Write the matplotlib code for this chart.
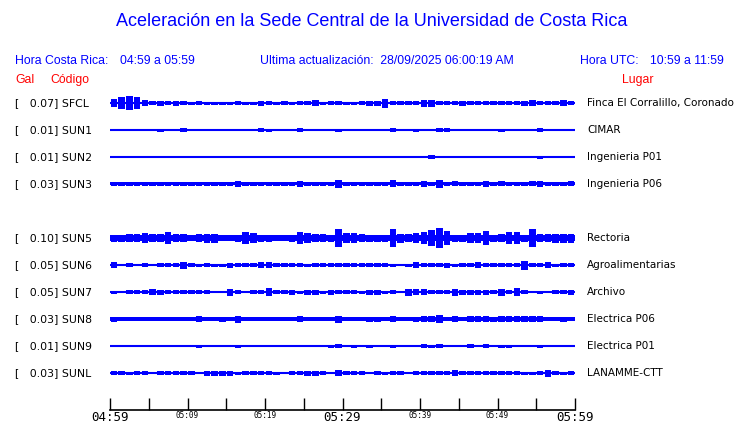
import numpy as np
import matplotlib
matplotlib.use('Agg')
import matplotlib.pyplot as plt

# station codes, peak acceleration (Gal) and place names
codes = ['SFCL', 'SUN1', 'SUN2', 'SUN3', 'SUN5', 'SUN6', 'SUN7', 'SUN8', 'SUN9', 'SUNL']
gal = ['0.07', '0.01', '0.01', '0.03', '0.10', '0.05', '0.05', '0.03', '0.01', '0.03']
places = ['Finca El Corralillo, Coronado', 'CIMAR', 'Ingenieria P01', 'Ingenieria P06',
          'Rectoria', 'Agroalimentarias', 'Archivo', 'Electrica P06', 'Electrica P01',
          'LANAMME-CTT']

# time axis (minutes after 04:59)
tick_minutes = list(range(0, 61, 5))
tick_labels = ['04:59', '', '05:09', '', '05:19', '', '05:29', '', '05:39', '', '05:49', '', '05:59']

# continuous noise level of each trace (half amplitude, drawing units)
floor = [1, 1, 1, 1.5, 2.7, 1, 1, 2, 1, 1]

# per-minute envelope (half amplitude)
sfcl = [4, 6, 7, 6, 3, 2, 2.5, 2, 2.5, 2, 1.5, 2, 1.5, 1.5, 1.5, 1.5, 2, 1.5, 1.5, 2.5,
        2, 1.5, 2, 1.5, 2, 2, 3, 1.5, 2, 2, 1.5, 1.5, 2, 2.5, 2.5, 4.5, 2, 2, 2, 2,
        3.5, 3.5, 2, 2, 2, 2.5, 2, 2, 2, 2, 2, 2, 2, 2.5, 3, 2, 2, 2, 3, 2]
sun1 = [1, 1, 1, 1, 1, 1, 1.5, 1, 1, 2, 1, 1, 1, 1, 1, 1, 1, 1, 1, 2,
        1.5, 1, 1, 1, 2, 1, 1, 1, 1, 1.5, 1, 1, 1, 1, 1, 1, 2, 1, 1, 1.5,
        1, 1, 2, 2, 1, 1, 1, 1, 1, 1, 1.5, 1, 1, 1, 1, 2, 1, 1, 1, 1]
sun2 = [1, 1, 1, 1, 1, 1, 1, 1, 1, 1, 1, 1, 1, 1, 1, 1, 1, 1, 1, 1,
        1, 1, 1, 1, 1, 1, 1, 1, 1, 1, 1, 1, 1, 1, 1, 1, 1, 1, 1, 1,
        1, 1.8, 1, 1, 1, 1, 1, 1, 1, 1, 1, 1, 1, 1, 1, 1.5, 1, 1, 1, 1]
sun3 = [2, 1.8, 2, 1.8, 2, 2, 1.8, 2, 1.8, 2, 2, 2, 2, 2, 2, 2, 3, 2, 2, 2,
        2, 2, 1.8, 2, 3, 2, 2, 2, 2, 4, 2, 2, 2, 2, 2, 2, 3.5, 2, 2, 2,
        3, 2, 4, 2, 2.5, 2, 2, 2, 3, 2, 2.5, 2, 2, 2, 2.5, 3, 2, 2, 2, 2.5]
sun5 = [3.5, 3.5, 4, 4, 5, 4, 4, 6, 4, 4, 3, 4, 4.5, 4.5, 3, 3, 3.5, 6, 5, 3.5,
        3.5, 3, 3, 3.5, 6, 5, 4, 4, 3.5, 9, 5, 5, 4, 3.5, 3.5, 3.5, 9, 4.5, 4, 5,
        6, 8, 10, 7, 3.5, 3.5, 5, 5, 7, 3.5, 4, 6, 6, 3.5, 9, 4, 4, 4.5, 4.5, 4.5]
sun6 = [3, 1, 2, 1, 2, 1, 2, 2, 2, 3.5, 2, 1.5, 2, 1.5, 1.5, 2.5, 2, 2, 2, 3,
        3, 2, 2, 2, 2, 1.5, 2, 2, 2, 2, 2, 2, 2, 2, 2, 2, 1.5, 1, 1.5, 3,
        2, 2, 2, 2.5, 1.5, 2, 2, 3, 2, 2, 2, 2, 2, 4.5, 2, 2, 3, 1.5, 2, 2]
sun7 = [1.5, 1, 2, 2, 2, 3, 2.5, 2, 2, 2, 2, 2, 2, 1, 1, 3.5, 2, 1, 2, 2,
        4, 2, 2, 2.5, 1.5, 2.5, 2.5, 1.5, 2.5, 2, 2, 2, 1.5, 2.5, 2.5, 1.5, 2, 1, 3.5, 3,
        3, 2, 2, 2, 3.5, 2.5, 2.5, 2.5, 2.5, 2, 3.5, 2, 4, 2, 1, 1.5, 1, 2, 2, 2.5]
sun8 = [2.5, 2, 2, 2, 2, 2, 2, 2, 2, 2, 2, 3, 2, 2, 2.5, 2, 3.5, 2, 2, 2,
        2, 2, 2, 2, 3, 2, 2, 2, 2, 3.5, 2, 2, 2, 2.5, 2.5, 2, 3, 2, 2, 2.5,
        3, 3, 4, 2, 3, 2, 3, 3, 3, 2.5, 3, 3, 3, 3, 3, 3, 2, 2, 2.5, 2]
sun9 = [1, 1, 1, 1, 1, 1, 1, 1, 1, 1, 1, 1.5, 1, 1, 1, 1, 1.5, 1, 1, 1,
        1, 1, 1, 1, 1, 1, 1, 1, 1.5, 2, 1, 1.5, 1, 1.5, 1, 1, 1.5, 1, 1, 1,
        2, 1.5, 2, 1, 1, 1, 2, 1, 2, 1, 1.5, 1.5, 1, 1, 1.3, 1.5, 1, 1, 1, 1]
sunl = [2, 2, 1.5, 2, 2, 1, 2, 2, 2, 2, 2, 1, 2.5, 2.5, 2.5, 2.5, 1.5, 2, 2, 2,
        2, 1.5, 1, 2, 2, 2.5, 2.5, 2, 1, 3, 2, 2, 2, 1, 2, 1.5, 2, 2, 1, 2,
        2, 2, 2, 2, 3, 2, 2, 2, 2, 2, 2, 2, 2, 1.5, 1.5, 2, 3.5, 2, 1.5, 2]
envelopes = [sfcl, sun1, sun2, sun3, sun5, sun6, sun7, sun8, sun9, sunl]

W, H = 740, 423
BLUE = '#0000ff'
RED = '#ff0000'

fig = plt.figure(figsize=(W / 100, H / 100), dpi=100)
fig.patch.set_facecolor('white')


def ftext(x, y, s, **kw):
    # place text using pixel coordinates of the picture (y from top)
    fig.text(x / W, 1 - y / H, s, **kw)


# traces axes: x in minutes, y in pixel rows from the top
ax = fig.add_axes([110 / W, 13 / H, 465 / W, 410 / H])
ax.set_xlim(0, 60)
ax.set_ylim(410, 0)
ax.set_facecolor('none')

rows = [103 + 27 * i for i in [0, 1, 2, 3, 5, 6, 7, 8, 9, 10]]
minutes = np.arange(60) + 0.5

for y, fl, env in zip(rows, floor, envelopes):
    ax.hlines(y, 0, 60, color=BLUE, lw=1.5)
    if fl > 1:
        ax.fill_between([0, 60], y - fl, y + fl, color=BLUE, lw=0)
    env = np.array(env, dtype=float)
    keep = env > fl
    ax.bar(minutes[keep], 2 * env[keep], bottom=y - env[keep], width=0.85,
           color=BLUE, lw=0)

for s in ['left', 'right', 'top']:
    ax.spines[s].set_visible(False)
ax.spines['bottom'].set_linewidth(1.2)
ax.set_yticks([])
ax.set_xticks(tick_minutes)
ax.set_xticklabels(tick_labels, family='DejaVu Sans Mono')
ax.tick_params(axis='x', direction='in', length=8.5, width=1, pad=1)
for t, lbl in zip(tick_minutes, ax.get_xticklabels()):
    lbl.set_fontsize(9 if t % 30 == 0 else 5.5)

# header texts
ftext(372, 22, 'Aceleración en la Sede Central de la Universidad de Costa Rica',
      color=BLUE, fontsize=13, family='Liberation Sans', ha='center', va='center')
hdr = dict(color=BLUE, fontsize=8.8, family='Liberation Sans', va='center')
ftext(15, 61, 'Hora Costa Rica:', **hdr)
ftext(120, 61, '04:59 a 05:59', **hdr)
ftext(260, 61, 'Ultima actualización:  28/09/2025 06:00:19 AM', **hdr)
ftext(580, 61, 'Hora UTC:', **hdr)
ftext(650, 61, '10:59 a 11:59', **hdr)
red = dict(color=RED, fontsize=8.8, family='Liberation Sans', va='center')
ftext(15, 80, 'Gal', **red)
ftext(50, 80, 'Código', **red)
ftext(622, 80, 'Lugar', **red)

# station labels
for y, g, c, p in zip(rows, gal, codes, places):
    ftext(15, y, f'[   {g}] {c}', color='black', fontsize=7.8, va='center')
    ftext(587, y, p, color='black', fontsize=7.5, va='center')

fig.savefig('out.png', dpi=100, facecolor='white')
